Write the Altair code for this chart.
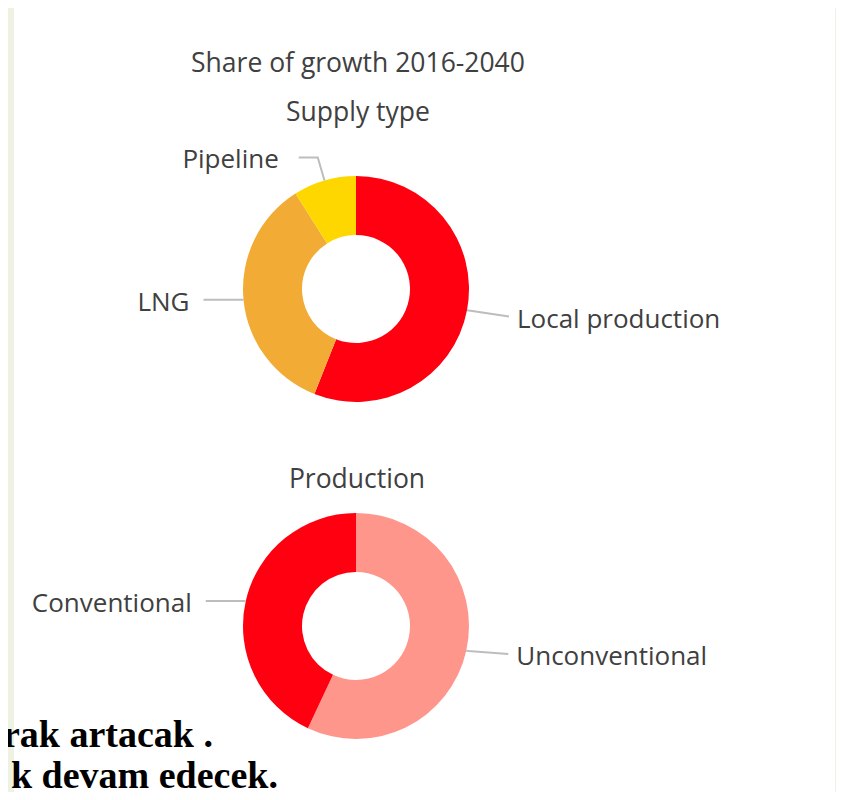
import math
import altair as alt
import pandas as pd

# ---------------- data ----------------
main_title = "Share of growth 2016-2040"
supply_title = "Supply type"
production_title = "Production"

supply_labels = ["Local production", "LNG", "Pipeline"]
supply_values = [56, 35, 9]
supply_colors = ["#FF0010", "#F2AC35", "#FFD700"]

production_labels = ["Unconventional", "Conventional"]
production_values = [57, 43]
production_colors = ["#FF968C", "#FF0010"]

slide_lines = ["rak artacak .", "k devam edecek."]

# ---------------- layout / style ----------------
W, H = 828, 784
R_OUT, R_IN = 113, 54
TEXT_FONT = "Open Sans"
TEXT_SIZE = 26
TITLE_SIZE = 26.5
TEXT_COLOR = "#404040"
LEADER_COLOR = "#BDBDBD"
# per-label leader style: (radial extension, horizontal length, text gap, end drop)
DEFAULT_LEADER = {"right": (2, 40, 8, 0), "left": (2, 38, 14, 0)}
leader_style = {"Pipeline": (24, 19, 20, 0), "Local production": (2, 40, 8, 6),
                "Unconventional": (2, 40, 8, 3)}

donuts = [
    ("supply", supply_labels, supply_values, 348, 281),
    ("production", production_labels, production_values, 348, 618),
]

slices, leaders, labels = [], [], []
for group, labs, vals, cx, cy in donuts:
    cum = 0
    for lab, v in zip(labs, vals):
        start, end = cum, cum + v
        cum = end
        a = 2 * math.pi * (start + end) / 2 / 100
        sx, sy = math.sin(a), -math.cos(a)
        side = "right" if sx > 0 else "left"
        sign = 1 if sx > 0 else -1
        e, h, gap, drop = leader_style.get(lab, DEFAULT_LEADER[side])
        p0 = (cx + R_OUT * sx, cy + R_OUT * sy)
        p1 = (cx + (R_OUT + e) * sx, cy + (R_OUT + e) * sy)
        p2 = (p1[0] + sign * h, p1[1] + drop)
        slices.append({"group": group, "label": lab, "start": start, "end": end})
        for i, p in enumerate([p0, p1, p2]):
            leaders.append({"label": lab, "order": i, "x": p[0], "y": p[1]})
        labels.append({"label": lab, "side": side,
                       "x": p2[0] + sign * gap, "y": p2[1] + 3})

df_slices = pd.DataFrame(slices)
df_leaders = pd.DataFrame(leaders)
df_labels = pd.DataFrame(labels)

xs = alt.Scale(domain=[0, W], nice=False, zero=False)
ys = alt.Scale(domain=[0, H], nice=False, zero=False, reverse=True)
theta_scale = alt.Scale(domain=[0, 100], range=[0, 2 * math.pi])
color_scale = alt.Scale(domain=supply_labels + production_labels,
                        range=supply_colors + production_colors)

panel = alt.Chart(pd.DataFrame({"a": [0]})).mark_rect(color="white").encode(
    x=alt.value(6), x2=alt.value(W - 1), y=alt.value(0), y2=alt.value(H)
)

arcs = []
for group, labs, vals, cx, cy in donuts:
    arcs.append(
        alt.Chart(df_slices).transform_filter(alt.datum.group == group)
        .mark_arc(radius=R_OUT, radius2=R_IN)
        .encode(
            theta=alt.Theta("start:Q", scale=theta_scale),
            theta2="end:Q",
            color=alt.Color("label:N", scale=color_scale, legend=None),
            x=alt.value(cx),
            y=alt.value(cy),
        )
    )

leader_lines = alt.Chart(df_leaders).mark_line(color=LEADER_COLOR, strokeWidth=2).encode(
    x=alt.X("x:Q", scale=xs, axis=None),
    y=alt.Y("y:Q", scale=ys, axis=None),
    detail="label:N",
    order="order:O",
)

label_layers = []
for side, align in [("right", "left"), ("left", "right")]:
    label_layers.append(
        alt.Chart(df_labels).transform_filter(alt.datum.side == side)
        .mark_text(font=TEXT_FONT, fontSize=TEXT_SIZE, color=TEXT_COLOR,
                   align=align, baseline="middle")
        .encode(x=alt.X("x:Q", scale=xs, axis=None),
                y=alt.Y("y:Q", scale=ys, axis=None),
                text="label:N")
    )

def title_text(txt, x, y):
    return alt.Chart(pd.DataFrame({"t": [txt]})).mark_text(
        font=TEXT_FONT, fontSize=TITLE_SIZE, color=TEXT_COLOR,
        align="center", baseline="middle"
    ).encode(text="t:N", x=alt.value(x), y=alt.value(y))

titles = [
    title_text(main_title, 350, 56),
    title_text(supply_title, 350, 105),
    title_text(production_title, 349, 472),
]

def slide_text(txt, x, y):
    return alt.Chart(pd.DataFrame({"t": [txt]})).mark_text(
        font="Liberation Serif", fontSize=38, fontWeight="bold", color="#000000",
        align="right", baseline="alphabetic"
    ).encode(text="t:N", x=alt.value(x), y=alt.value(y))

slide = [slide_text(slide_lines[0], 205, 739), slide_text(slide_lines[1], 270, 780)]

chart = alt.layer(panel, *arcs, leader_lines, *label_layers, *titles, *slide).properties(
    width=W, height=H,
    autosize=alt.AutoSizeParams(type="none"),
    padding=0,
    background="#EEF2E2",
).configure_view(stroke=None)

chart.save("out.html", embed_options={"renderer": "svg", "actions": False})
